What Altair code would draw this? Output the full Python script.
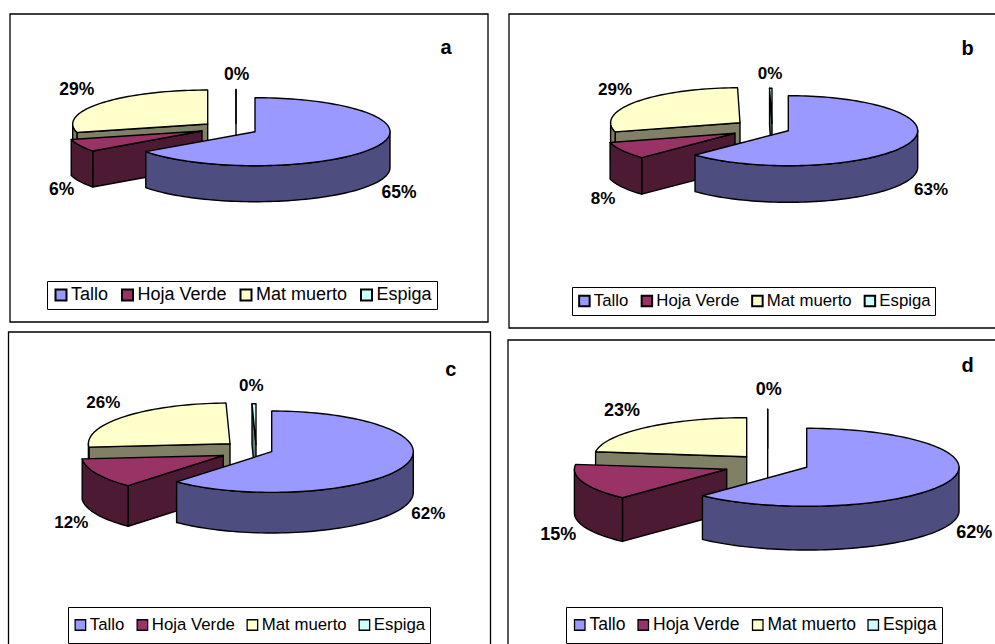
import math
import altair as alt

SERIES = ["Tallo", "Hoja Verde", "Mat muerto", "Espiga"]
VALUES_A = [65, 6, 29, 0]
VALUES_B = [63, 8, 29, 0.3]
VALUES_C = [62, 12, 26, 0.45]
VALUES_D = [62, 15, 23, 0]

TOP_COLOURS = ["#9999ff", "#993366", "#ffffcc", "#ccffff"]
WALL_COLOURS = ["#4d4d80", "#4d1a33", "#808066", "#668080"]
FONT = "Liberation Sans"

# Layout of each panel: frame box, ellipse radii, wall depth, the centre each
# exploded slice sits on, text anchors and the legend box.
PANELS = [
    dict(letter="a", values=VALUES_A, frame=(10, 14, 488, 322), rx=135, ry=34, depth=36,
         centres=[(255, 131.7), (202, 131), (207.7, 124), (236, 123.5)],
         labels=[(399, 193), (61.7, 190), (76.7, 90), (236.7, 75)],
         letter_pos=(446, 47.5), font=17.5, letter_font=20,
         legend=dict(x=47, y=281, size=18, pad=5, gap=9.5, clip=18, sym=121, sw=2)),
    dict(letter="b", values=VALUES_B, frame=(509, 14, 1003, 328), rx=129.4, ry=35, depth=36.6,
         centres=[(788.3, 130.7), (735, 133.3), (740, 122.7), (772, 123.3)],
         labels=[(931, 189.5), (603, 199), (615, 90), (770, 73.5)],
         letter_pos=(967.7, 48.5), font=17, letter_font=20,
         legend=dict(x=572, y=287, size=16.8, pad=4, gap=9.5, clip=20, sym=110, sw=2)),
    dict(letter="c", values=VALUES_C, frame=(8.5, 332, 490.5, 660), rx=141.6, ry=40.7, depth=40.6,
         centres=[(271.7, 451.7), (223.3, 455.5), (230, 443.7), (256, 444.5)],
         labels=[(428.3, 514), (71.3, 523), (103.3, 403), (251.3, 385.5)],
         letter_pos=(450.7, 369.5), font=17, letter_font=20,
         legend=dict(x=68, y=607, size=16.8, pad=4, gap=9, clip=28, sym=110, sw=1.3)),
    dict(letter="d", values=VALUES_D, frame=(508, 340, 1003, 660), rx=152.3, ry=39, depth=43.7,
         centres=[(806.7, 467.3), (726.7, 469.3), (746.7, 456.7), (767.7, 448.3)],
         labels=[(974.3, 532.5), (558.3, 535), (622, 410.5), (768.7, 389.5)],
         letter_pos=(967.7, 366), font=18, letter_font=20,
         legend=dict(x=566, y=607, size=17.5, pad=5, gap=8.5, clip=26, sym=110, sw=1.3)),
]

PART_DOMAIN = SERIES + [name + " pared" for name in SERIES]
PART_RANGE = TOP_COLOURS + WALL_COLOURS


def rim(centre, rx, ry, angle):
    rad = math.radians(angle)
    return (centre[0] + rx * math.sin(rad), centre[1] - ry * math.cos(rad))


def arc(centre, rx, ry, start, end):
    steps = max(1, int((end - start) / 2))
    return [rim(centre, rx, ry, start + (end - start) * i / steps) for i in range(steps + 1)]


def feature(points, part):
    ring = [list(p) for p in points] + [list(points[0])]
    return {
        "type": "Feature",
        "geometry": {"type": "Polygon", "coordinates": [ring]},
        "properties": {"part": part},
    }


def slice_faces(panel, index, start, end):
    """Faces of one exploded slice, back to front: radial wall, rim wall, top."""
    centre = panel["centres"][index]
    rx, ry, depth = panel["rx"], panel["ry"], panel["depth"]
    name = SERIES[index]
    faces = []
    if start > 180:
        edge = rim(centre, rx, ry, start)
        faces.append(feature(
            [centre, edge, (edge[0], edge[1] + depth), (centre[0], centre[1] + depth)],
            name + " pared"))
    low, high = max(start, 90), min(end, 270)
    if high > low:
        upper = arc(centre, rx, ry, low, high)
        lower = [(x, y + depth) for x, y in reversed(upper)]
        faces.append(feature(upper + lower, name + " pared"))
    faces.append(feature([centre] + arc(centre, rx, ry, start, end), name))
    return faces


def pie_features(panel):
    total = sum(panel["values"])
    bounds = []
    running = 0
    for value in panel["values"]:
        bounds.append((running / total * 360, (running + value) / total * 360))
        running += value
    features = []
    # Painter's order: far slices first, the large front slice last.
    for index in (2, 3, 1, 0):
        features += slice_faces(panel, index, *bounds[index])
    return features


def pie_layer(panel):
    box = panel["legend"]
    return (
        alt.Chart(alt.InlineData(values={"type": "FeatureCollection", "features": pie_features(panel)},
                                 format=alt.DataFormat(property="features", type="json")))
        .mark_geoshape(stroke="black", strokeWidth=1.4, strokeJoin="round")
        .encode(fill=alt.Fill(
            "properties.part:N",
            scale=alt.Scale(domain=PART_DOMAIN, range=PART_RANGE),
            legend=alt.Legend(
                title=None, values=SERIES, orient="none", legendX=box["x"], legendY=box["y"],
                direction="horizontal", columns=4, padding=box["pad"], columnPadding=box["gap"],
                clipHeight=box["clip"], strokeColor="black", fillColor="white",
                labelFont=FONT, labelFontSize=box["size"], labelColor="black", labelLimit=200,
                labelOffset=1, symbolType="square", symbolSize=box["sym"],
                symbolStrokeColor="black", symbolStrokeWidth=box["sw"],
            ),
        ))
        .project(type="identity", scale=1, translate=[0, 0])
    )


frame_rows = [dict(x=p["frame"][0], y=p["frame"][1], x2=p["frame"][2], y2=p["frame"][3]) for p in PANELS]
frames = alt.Chart(alt.Data(values=frame_rows)).mark_rect(
    fill="white", stroke="black", strokeWidth=1.3, clip=True
).encode(
    x=alt.X("x:Q", scale=None), x2="x2:Q",
    y=alt.Y("y:Q", scale=None), y2="y2:Q",
)

text_rows = []
for p in PANELS:
    text_rows.append(dict(x=p["letter_pos"][0], y=p["letter_pos"][1], t=p["letter"], s=p["letter_font"]))
    for value, (x, y) in zip(p["values"], p["labels"]):
        text_rows.append(dict(x=x, y=y, t=f"{round(value)}%", s=p["font"]))
texts = alt.Chart(alt.Data(values=text_rows)).mark_text(
    font=FONT, fontWeight="bold", color="black", align="center", baseline="middle"
).encode(
    x=alt.X("x:Q", scale=None), y=alt.Y("y:Q", scale=None),
    text="t:N", size=alt.Size("s:Q", scale=None),
)

chart = (
    alt.layer(frames, *[pie_layer(p) for p in PANELS], texts)
    .resolve_scale(fill="independent")
    .properties(width=995, height=644, padding=0, background="white",
                autosize=alt.AutoSizeParams(type="none"))
    .configure_view(stroke=None)
)
chart.save("out.html", embed_options={"renderer": "svg", "actions": False})
